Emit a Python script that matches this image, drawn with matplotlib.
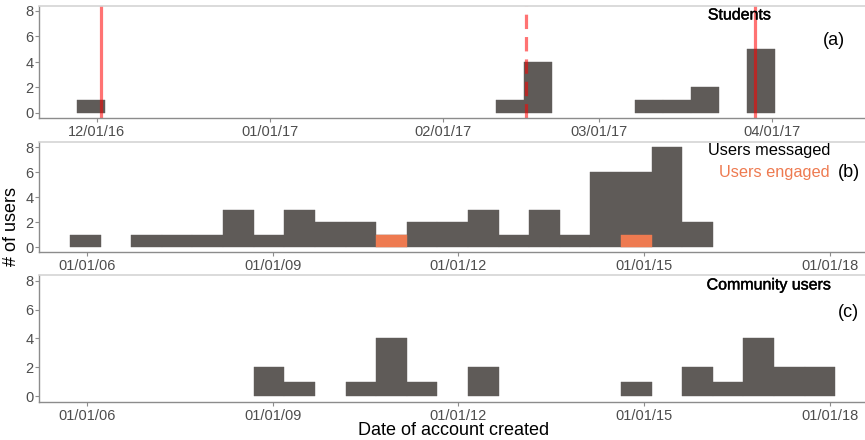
import datetime as dt
import matplotlib
matplotlib.use("Agg")
import matplotlib.pyplot as plt
import matplotlib.dates as mdates
import matplotlib.patheffects as pe

plt.rcParams['font.family'] = ['Liberation Sans', 'DejaVu Sans']

# (a) students: 5-day bins
students_start = dt.datetime(2016, 11, 27, 12)
students_binwidth = 5.0  # days
students_counts = [1, 0, 0, 0, 0, 0, 0, 0, 0, 0, 0, 0, 0, 0, 0, 1, 4, 0, 0, 0, 1, 1, 2, 0, 5]
event_dates = [dt.datetime(2016, 12, 1, 18), dt.datetime(2017, 2, 16), dt.datetime(2017, 3, 29)]
event_styles = ['-', '--', '-']
students_ticks = [dt.datetime(2016, 12, 1), dt.datetime(2017, 1, 1), dt.datetime(2017, 2, 1),
                  dt.datetime(2017, 3, 1), dt.datetime(2017, 4, 1)]
students_xlim = (dt.datetime(2016, 11, 20, 16), dt.datetime(2017, 4, 17, 16))

# (b) and (c): ~half-year bins
users_start = dt.datetime(2005, 9, 25)
users_binwidth = 180.4  # days
messaged_counts = [1, 0, 1, 1, 1, 3, 1, 3, 2, 2, 1, 2, 2, 3, 1, 3, 1, 6, 6, 8, 2]
engaged_counts = [0, 0, 0, 0, 0, 0, 0, 0, 0, 0, 1, 0, 0, 0, 0, 0, 0, 0, 1, 0, 0]
community_counts = [0, 0, 0, 0, 0, 0, 2, 1, 0, 1, 4, 1, 0, 2, 0, 0, 0, 0, 1, 0, 2, 1, 4, 2, 2]
users_ticks = [dt.datetime(y, 1, 1) for y in (2006, 2009, 2012, 2015, 2018)]
users_xlim = (dt.datetime(2005, 3, 26), dt.datetime(2018, 7, 24))

bar_color = '#5f5b58'
engaged_color = '#ee7a50'
W, H = 865, 440

fig = plt.figure(figsize=(W / 100, H / 100), dpi=100)


def make_axes(top, bottom, left=39, right=865):
    return fig.add_axes([left / W, 1 - bottom / H, (right - left) / W, (bottom - top) / H])


def style(ax, ticks, xlim):
    ax.set_xlim(mdates.date2num(xlim[0]), mdates.date2num(xlim[1]))
    ax.set_ylim(-0.4, 8.4)
    ax.set_yticks([0, 2, 4, 6, 8])
    ax.set_xticks(mdates.date2num(ticks))
    ax.xaxis.set_major_formatter(mdates.DateFormatter('%m/%d/%y'))
    ax.spines['right'].set_visible(False)
    ax.spines['top'].set_color('#d4d4d4')
    ax.spines['top'].set_linewidth(1.2)
    for s in ('left', 'bottom'):
        ax.spines[s].set_color('#8c8c8c')
        ax.spines[s].set_linewidth(1.0)
    ax.tick_params(colors='#8c8c8c', length=3, width=0.8, labelcolor='#4d4d4d',
                   labelsize=10.5, pad=1)
    ax.tick_params(axis='x', pad=2)


def hist_bars(ax, start, width, counts, color):
    x0 = mdates.date2num(start)
    lefts = [x0 + i * width for i, c in enumerate(counts) if c > 0]
    heights = [c for c in counts if c > 0]
    ax.bar(lefts, heights, width=width, align='edge', color=color,
           edgecolor=color, linewidth=0.3)


heavy = [pe.withStroke(linewidth=0.3, foreground='black')]

# (a)
ax_a = make_axes(5.9, 118.1)
hist_bars(ax_a, students_start, students_binwidth, students_counts, bar_color)
for d, ls in zip(event_dates, event_styles):
    ax_a.axvline(mdates.date2num(d), color='red', alpha=0.55, lw=2.3, ls=ls,
                 dashes=(4.5, 2.5) if ls == '--' else (None, None))
style(ax_a, students_ticks, students_xlim)
ax_a.text(0.848, 0.919, 'Students', transform=ax_a.transAxes, ha='center', va='center',
          fontsize=11.5, color='black', path_effects=heavy)
ax_a.text(0.962, 0.696, '(a)', transform=ax_a.transAxes, ha='center', va='center',
          fontsize=13, color='black')

# (b)
ax_b = make_axes(142.3, 252.3)
hist_bars(ax_b, users_start, users_binwidth, messaged_counts, bar_color)
hist_bars(ax_b, users_start, users_binwidth, engaged_counts, engaged_color)
style(ax_b, users_ticks, users_xlim)
ax_b.text(0.9576, 0.93, 'Users messaged', transform=ax_b.transAxes, ha='right', va='center',
          fontsize=11.8, color='black')
ax_b.text(0.9576, 0.724, 'Users engaged', transform=ax_b.transAxes, ha='right', va='center',
          fontsize=11.8, color=engaged_color)
ax_b.text(0.98, 0.724, '(b)', transform=ax_b.transAxes, ha='center', va='center',
          fontsize=13, color='black')

# (c)
ax_c = make_axes(275.1, 401.8)
hist_bars(ax_c, users_start, users_binwidth, community_counts, bar_color)
style(ax_c, users_ticks, users_xlim)
ax_c.text(0.9588, 0.922, 'Community users', transform=ax_c.transAxes, ha='right', va='center',
          fontsize=11.5, color='black', path_effects=heavy)
ax_c.text(0.98, 0.703, '(c)', transform=ax_c.transAxes, ha='center', va='center',
          fontsize=13, color='black')

fig.text(12 / W, 1 - 226 / H, '# of users', rotation=90, ha='center', va='center', fontsize=13)
fig.text(454 / W, 1 - 430 / H, 'Date of account created', ha='center', va='center', fontsize=13)

fig.savefig('out.png', dpi=100)
